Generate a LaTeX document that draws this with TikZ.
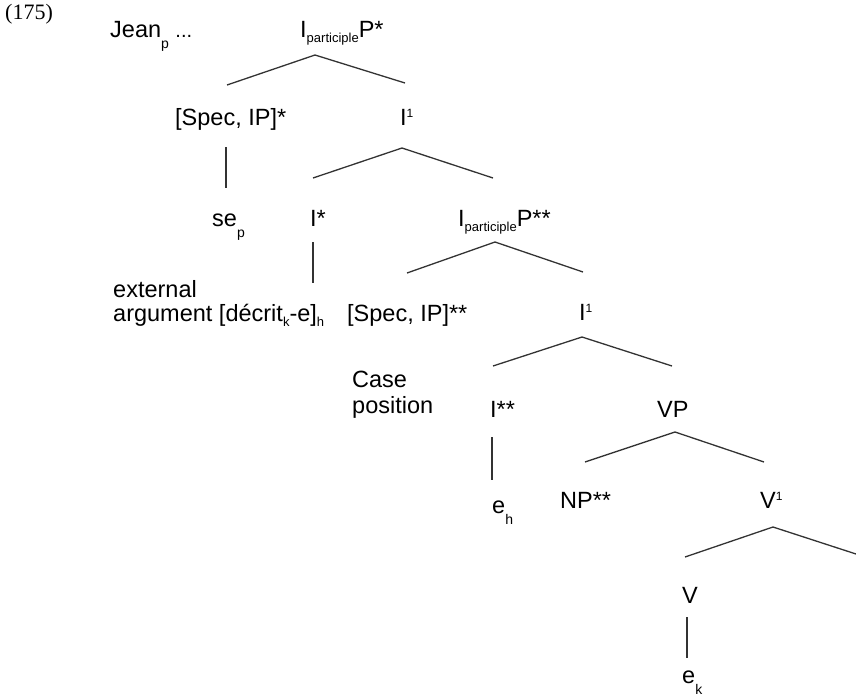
\documentclass[tikz,border=0pt]{standalone}
\usepackage{fontspec}
\setmainfont{Liberation Sans}
\newfontfamily\exnumfont{Liberation Serif}
\newcommand{\treefont}{\fontsize{23.5}{26}\selectfont}
\newcommand{\lowtag}[1]{\raisebox{-5pt}{\fontsize{13}{13}\selectfont #1}}
\newcommand{\deeptag}[1]{\raisebox{-11pt}{\fontsize{14}{14}\selectfont #1}}
\newcommand{\uptag}[1]{\raisebox{8pt}{\fontsize{12}{12}\selectfont #1}}

\begin{document}
\begin{tikzpicture}[x=1pt, y=-1pt, every node/.style={font=\treefont, inner sep=0pt, anchor=base west}, branch/.style={draw=black!80, line width=1.3pt}]
    \useasboundingbox (0,0) rectangle (856,696);
    \node[font=\exnumfont\fontsize{22}{22}\selectfont] (exnum) at (5,19) {(175)};
    \node (jean) at (110,37) {Jean\deeptag{p} {\fontsize{20}{20}\selectfont...}};
    \node (ipp1) at (300,37) {I\lowtag{participle}P*};
    \node (spec1) at (175,125) {[Spec, IP]*};
    \node (ibar1) at (400,125) {I\uptag{1}};
    \node (sep) at (212,226) {se\deeptag{p}};
    \node (istar1) at (310,226) {I*};
    \node (ipp2) at (458,226) {I\lowtag{participle}P**};
    \node (ext) at (113,297) {external};
    \node (arg) at (113,321) {argument [décrit\lowtag{k}-e]\lowtag{h}};
    \node (spec2) at (347,321) {[Spec, IP]**};
    \node (ibar2) at (579,320) {I\uptag{1}};
    \node (case) at (352,387) {Case};
    \node (pos) at (352,413) {position};
    \node (istar2) at (490,417) {I**};
    \node (vp) at (657,417) {VP};
    \node (eh) at (492,513) {e\deeptag{h}};
    \node (np) at (560,508) {NP**};
    \node (vbar) at (760,508) {V\uptag{1}};
    \node (v) at (682,603) {V};
    \node (ek) at (682,683) {e\deeptag{k}};
    \coordinate (vbarend) at (856,554);
    \draw[branch] ([shift={(52,-40)}]spec1.base west) -- ([shift={(15,18)}]ipp1.base west) -- ([shift={(5,-42)}]ibar1.base west);
    \draw[branch] ([shift={(51,22)}]spec1.base west) -- ([shift={(14,-38)}]sep.base west);
    \draw[branch] ([shift={(3,-48)}]istar1.base west) -- ([shift={(2,23)}]ibar1.base west) -- ([shift={(35,-48)}]ipp2.base west);
    \draw[branch] ([shift={(3,16)}]istar1.base west) -- ([shift={(200,-38)}]arg.base west);
    \draw[branch] ([shift={(60,-48)}]spec2.base west) -- ([shift={(37,16)}]ipp2.base west) -- ([shift={(4,-48)}]ibar2.base west);
    \draw[branch] ([shift={(3,-51)}]istar2.base west) -- ([shift={(3,17)}]ibar2.base west) -- ([shift={(15,-51)}]vp.base west);
    \draw[branch] ([shift={(2,20)}]istar2.base west) -- ([shift={(0,-33)}]eh.base west);
    \draw[branch] ([shift={(25,-46)}]np.base west) -- ([shift={(18,15)}]vp.base west) -- ([shift={(4,-46)}]vbar.base west);
    \draw[branch] ([shift={(3,-46)}]v.base west) -- ([shift={(13,19)}]vbar.base west) -- (vbarend);
    \draw[branch] ([shift={(5,14)}]v.base west) -- ([shift={(5,-25)}]ek.base west);
\end{tikzpicture}
\end{document}
